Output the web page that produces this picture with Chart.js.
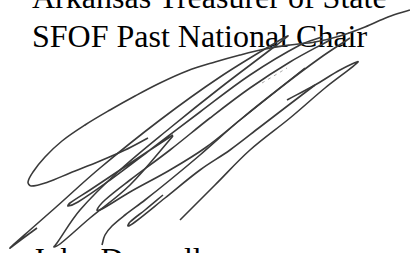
<!DOCTYPE html>
<html>
<head>
<meta charset="utf-8">
<script src="https://cdn.jsdelivr.net/npm/chart.js@4.4.1/dist/chart.umd.min.js"></script>
<style>
  html, body { margin: 0; padding: 0; background: #fff; overflow: hidden; }
  #wrap { position: relative; width: 410px; height: 253px; overflow: hidden; }
  .line { position: absolute; left: 32px; font-family: 'Liberation Serif', serif;
          font-size: 32px; line-height: 32px; color: #000; white-space: nowrap; }
  #sig { position: absolute; left: 0; top: 0; }
</style>
</head>
<body>
<div id="wrap">
  <div class="line" style="top:-19px">Arkansas Treasurer of State</div>
  <div class="line" style="top:19.5px">SFOF Past National Chair</div>
  <div class="line" style="top:243px">John Dannell</div>
  <canvas id="sig" width="410" height="253"></canvas>
</div>
<script>
// signature strokes (x to the right, y downward, in px)
const strokeTopLoop = [[410,10],[388,17],[365,27],[340,36],[315,42],[290,45],[265,49],[240,55],[215,62],[187,71],[160,83],[135,96],[110,110],[85,125],[62,141],[45,157],[33,172],[28,182],[31,186],[48,182],[70,173],[100,161],[125,150],[148,138]];
const strokeLeftTip = [[37,228],[22,239],[10,248],[30,230],[55,208],[100,168],[160,120],[220,77],[280,40],[288,36],[270,50],[220,88],[170,128],[120,170],[80,210],[57,243],[54,247],[60,244],[90,218],[130,185],[173,136]];
const strokeMidLoop = [[173,135],[150,150],[120,170],[90,190],[70,203],[68,206],[78,202],[110,180],[150,150],[200,112],[250,75],[300,45],[322,37]];
const strokeThird = [[330,40],[290,62],[250,88],[210,118],[170,150],[130,180],[105,200],[97,210],[102,209],[130,192],[170,170],[205,148],[240,120],[275,92],[305,68]];
const strokeD = [[102,245],[105,235],[112,226],[125,215],[145,200],[170,180],[200,155],[240,120],[280,88],[320,58],[350,38]];
const strokeNarrow = [[163,195],[145,210],[130,222],[128,226],[135,222],[165,198],[200,170],[230,150],[260,127],[290,104],[315,85]];
const strokeRight = [[180,220],[215,185],[250,150],[290,118],[325,88],[358,62],[340,70],[315,85],[287,100]];
const faintDash = [[262,83],[287,68]];

const allStrokes = [strokeTopLoop, strokeLeftTip, strokeMidLoop, strokeThird, strokeD, strokeNarrow, strokeRight];

const datasets = allStrokes.map(s => ({
  data: s.map(p => ({ x: p[0], y: p[1] })),
  showLine: true,
  borderColor: '#3a3a3a',
  borderWidth: 1.6,
  pointRadius: 0,
  tension: 0.35
}));
datasets.push({
  data: faintDash.map(p => ({ x: p[0], y: p[1] })),
  showLine: true,
  borderColor: '#aaa',
  borderWidth: 1,
  borderDash: [3, 4],
  pointRadius: 0
});

new Chart(document.getElementById('sig').getContext('2d'), {
  type: 'scatter',
  data: { datasets: datasets },
  options: {
    responsive: false,
    animation: false,
    devicePixelRatio: 1,
    layout: { padding: 0 },
    plugins: { legend: { display: false }, tooltip: { enabled: false } },
    scales: {
      x: { type: 'linear', min: 0, max: 410, display: false },
      y: { type: 'linear', min: 0, max: 253, reverse: true, display: false }
    }
  }
});
</script>
</body>
</html>
